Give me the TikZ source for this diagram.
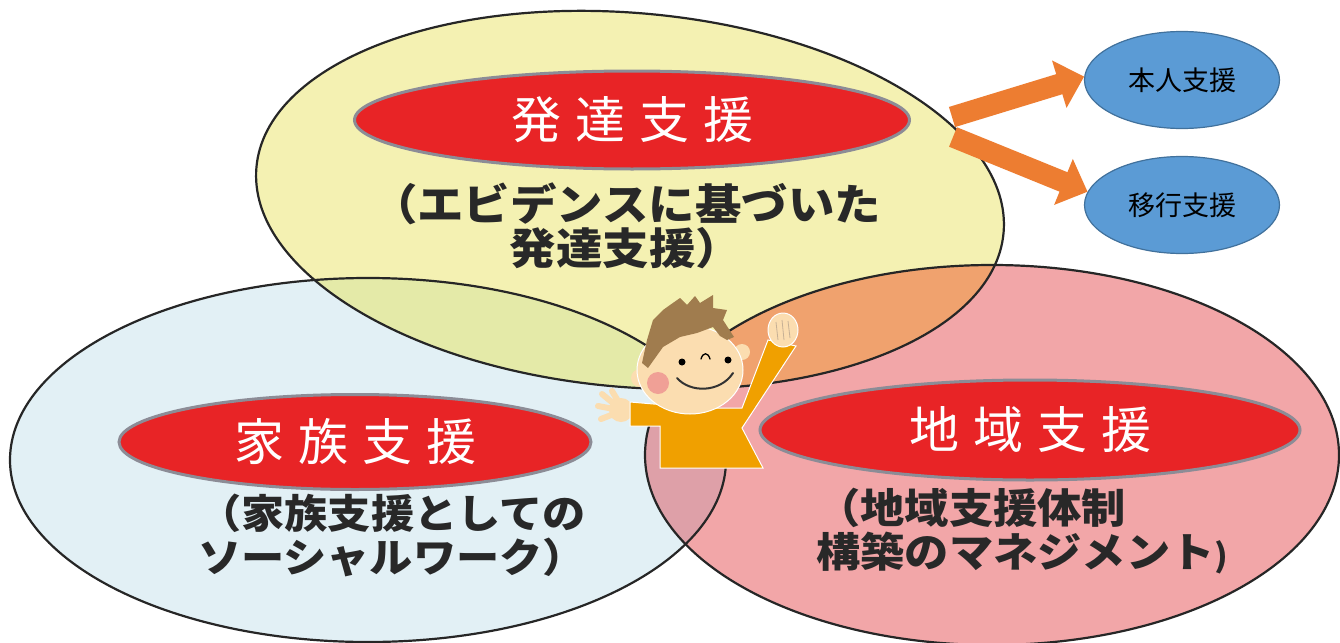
\documentclass[tikz,border=0pt]{standalone}
\usepackage{fontspec}
\newfontfamily\jp{Noto Sans CJK JP}
\newfontfamily\jpsub[FakeStretch=1.08]{Noto Sans CJK JP}
\usetikzlibrary{arrows.meta,shapes.geometric}

\definecolor{ylw}{RGB}{244,241,178}
\definecolor{lblue}{RGB}{226,240,245}
\definecolor{pnk}{RGB}{242,166,168}
\definecolor{ylwblue}{RGB}{228,234,168}
\definecolor{ylwpnk}{RGB}{240,162,110}
\definecolor{bluepnk}{RGB}{222,160,168}
\definecolor{redlbl}{RGB}{232,36,38}
\definecolor{labelrim}{RGB}{140,140,150}
\definecolor{darktext}{RGB}{40,40,40}
\definecolor{orng}{RGB}{237,125,49}
\definecolor{skyb}{RGB}{91,155,213}
\definecolor{skybd}{RGB}{65,113,156}
\definecolor{hair}{RGB}{160,124,78}
\definecolor{skin}{RGB}{251,221,176}
\definecolor{shirt}{RGB}{240,160,0}
\definecolor{cheek}{RGB}{240,160,150}

\newcommand\spaced[4]{#1\kern14pt#2\kern14pt#3\kern14pt#4}

\begin{document}
\begin{tikzpicture}[x=1pt,y=-1pt,
  ring/.style={draw=black!85,line width=2.2pt},
  redlabel/.style={ellipse,fill=redlbl,draw=labelrim,line width=3pt,text=white,
    inner sep=0pt,font=\jp\fontsize{50}{50}\selectfont},
  subtext/.style={text=darktext,inner sep=0pt,font=\jpsub\bfseries\fontsize{40}{44}\selectfont},
  bubble/.style={ellipse,fill=skyb,draw=skybd,line width=1.2pt,minimum width=195pt,
    minimum height=97pt,inner sep=0pt,font=\jp\fontsize{27}{27}\selectfont},
  bigarrow/.style={draw=orng,line width=21pt,-{Triangle[length=26pt,width=48pt]}},
  ylwtilt/.style={rotate around={-5:(630,200)}}
]
\useasboundingbox (0,0) rectangle (1340,642);
\fill[white] (0,0) rectangle (1340,642);

% the three support circles
\fill[lblue] (368,460) ellipse [x radius=358, y radius=182];
\fill[pnk] (992,455) ellipse [x radius=347, y radius=190];
\fill[ylw,ylwtilt] (630,200) ellipse [x radius=375, y radius=187];

% overlapping areas
\begin{scope}
  \clip (368,460) ellipse [x radius=358, y radius=182];
  \fill[bluepnk] (992,455) ellipse [x radius=347, y radius=190];
\end{scope}
\begin{scope}
  \clip[ylwtilt] (630,200) ellipse [x radius=375, y radius=187];
  \fill[ylwblue] (368,460) ellipse [x radius=358, y radius=182];
  \fill[ylwpnk] (992,455) ellipse [x radius=347, y radius=190];
\end{scope}

% outlines
\draw[ring] (368,460) ellipse [x radius=358, y radius=182];
\draw[ring] (992,455) ellipse [x radius=347, y radius=190];
\draw[ring,ylwtilt] (630,200) ellipse [x radius=375, y radius=187];

% headline labels
\node[redlabel,minimum width=555pt,minimum height=98pt] (hattatsu) at (632,120) {\spaced{発}{達}{支}{援}};
\node[redlabel,minimum width=472pt,minimum height=95pt] (kazoku) at (355,442) {\spaced{家}{族}{支}{援}};
\node[redlabel,minimum width=540pt,minimum height=100pt] (chiiki) at (1030,430) {\spaced{地}{域}{支}{援}};

% explanatory texts
\node[subtext,align=center,font=\jpsub\bfseries\fontsize{43}{44}\selectfont] (hattatsuSub) at (626,226) {（エビデンスに基づいた\\発達支援）};
\node[subtext,align=center] (kazokuSub) at (392,535) {（家族支援としての\\ソーシャルワーク）};
\node[subtext,align=left,anchor=west,font=\jpsub\bfseries\fontsize{41}{44}\selectfont] (chiikiSub) at (816,531) {（地域支援体制\\構築のマネジメント{\fontsize{32}{32}\selectfont)}};

% outcome bubbles
\node[bubble] (honin) at (1182,80) {本人支援};
\node[bubble] (ikou) at (1182,205) {移行支援};

% arrows from development support
\coordinate (a1) at (952,117);
\coordinate (a2) at (953,137);
\draw[bigarrow] (a1) -- (honin.178);
\draw[bigarrow] (a2) -- (ikou.172);

% child in the centre
% left hand
\fill[skin] (621,410) circle (12);
\draw[skin,line width=6pt,line cap=round]
  (619,408) -- (602,394) (619,410) -- (598,406) (619,412) -- (601,419) (621,406) -- (612,391);
% shirt
\filldraw[fill=shirt,draw=white,line width=1pt]
  (630,402) -- (700,408) -- (742,408) -- (768,340) -- (796,346) -- (742,428)
  -- (763,468) -- (660,468) -- (660,426) -- (630,426) -- cycle;
% raised fist
\filldraw[fill=skin,draw=white,line width=1pt] (783,330) ellipse [x radius=15, y radius=17];
\draw[hair!60,line width=0.8pt] (776,322) -- (778,340) (782,320) -- (784,340) (788,321) -- (790,338);
% ears and face
\fill[skin] (640,378) circle (9);
\fill[skin] (742,352) circle (8);
\filldraw[fill=skin,draw=white,line width=1pt] (690,370) ellipse [x radius=53, y radius=44];
% hair
\fill[hair] (642,363) -- (647,340) -- (653,320) -- (663,310) -- (670,305) -- (680,298)
  -- (687,305) -- (695,296) -- (700,303) -- (713,295) -- (713,308) -- (727,310)
  -- (723,320) -- (734,337) -- (727,340) -- (720,336) -- (713,327) -- (697,333)
  -- (680,337) -- (663,347) -- (648,368) -- cycle;
% cheek, eyes, nose, mouth
\fill[cheek] (658,383) circle (11);
\fill[black] (682,362) circle (3.5);
\fill[black] (728,360) circle (3.5);
\draw[black,line width=1.3pt,line cap=round] (701,359) .. controls (703,352) and (708,352) .. (710,359);
\draw[black!80,line width=2pt,line cap=round] (677,378) .. controls (690,393) and (720,393) .. (733,373);
\end{tikzpicture}
\end{document}
